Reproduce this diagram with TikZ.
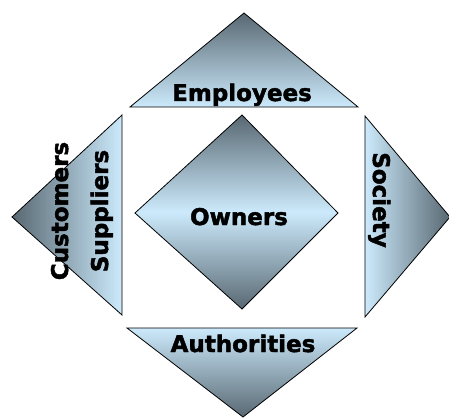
\documentclass[tikz,border=0pt]{standalone}
\usepackage{fontspec}
\setmainfont{DejaVu Sans}[BoldFeatures={FakeBold=2}]
\usepackage{xcolor}
\usepackage{tikz}
\definecolor{fonce}{RGB}{88,104,114}
\definecolor{clair}{RGB}{204,234,252}
\tikzset{
  forme/.style={draw=black, line width=0.8pt},
  etiquette/.style={font=\fontsize{23}{27}\selectfont\bfseries, inner sep=0pt, anchor=base}
}

\begin{document}
\begin{tikzpicture}[x=1pt, y=-1pt]
        \useasboundingbox (0,0) rectangle (449,417);
        % Triangle du haut
        \shadedraw[forme, top color=fonce, bottom color=clair] (244,13) -- (358,107) -- (130,107) -- cycle;
        \node[etiquette] (employees) at (242,101) {Employees};

        % Triangle de gauche
        \shadedraw[forme, left color=fonce, right color=clair] (12,217) -- (122,115) -- (122,315) -- cycle;
        \node[etiquette, rotate=90] (customers) at (68,211) {Customers};
        \node[etiquette, rotate=90] (suppliers) at (108,211) {Suppliers};

        % Triangle de droite
        \shadedraw[forme, left color=clair, right color=fonce] (365,116) -- (450,217) -- (365,317) -- cycle;
        \node[etiquette, rotate=-90] (society) at (373,200) {Society};

        % Triangle du bas
        \shadedraw[forme, top color=clair, bottom color=fonce] (127,328) -- (357,328) -- (243,417) -- cycle;
        \node[etiquette] (authorities) at (243,352) {Authorities};

        % Losange central
        \shadedraw[forme, top color=fonce, bottom color=fonce, middle color=clair] (242,115) -- (338,213) -- (242,309) -- (135,213) -- cycle;
        \node[etiquette] (owners) at (239,225) {Owners};
    \end{tikzpicture}
\end{document}
